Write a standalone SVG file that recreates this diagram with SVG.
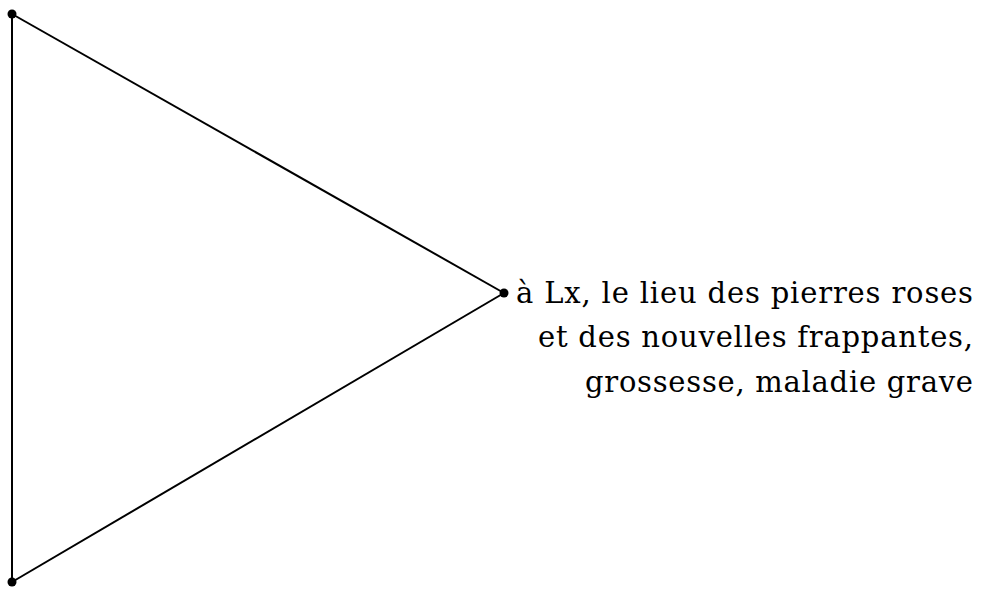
<svg xmlns="http://www.w3.org/2000/svg" width="981" height="596" viewBox="0 0 981 596">
  <style>
    .edge { stroke: #000; stroke-width: 2; fill: none; }
    .pt { fill: #000; }
    .lbl { font-family: "DejaVu Serif", "Liberation Serif", serif; font-size: 29px; fill: #000; text-anchor: end; }
  </style>
  <rect width="981" height="596" fill="#fff"/>
  <g id="connectors">
    <line class="edge" x1="12" y1="14" x2="12" y2="582"/>
    <line class="edge" x1="12" y1="14" x2="504" y2="293"/>
    <line class="edge" x1="12" y1="582" x2="504" y2="293"/>
  </g>
  <g id="node-top"><circle class="pt" cx="12" cy="14" r="4.5"/></g>
  <g id="node-bottom"><circle class="pt" cx="12" cy="582" r="4.5"/></g>
  <g id="node-right">
    <circle class="pt" cx="504" cy="293" r="4.5"/>
    <text class="lbl" x="973" y="303" textLength="457" lengthAdjust="spacing">à Lx, le lieu des pierres roses</text>
    <text class="lbl" x="973" y="347" textLength="435" lengthAdjust="spacing">et des nouvelles frappantes,</text>
    <text class="lbl" x="973" y="392" textLength="388" lengthAdjust="spacing">grossesse, maladie grave</text>
  </g>
</svg>
